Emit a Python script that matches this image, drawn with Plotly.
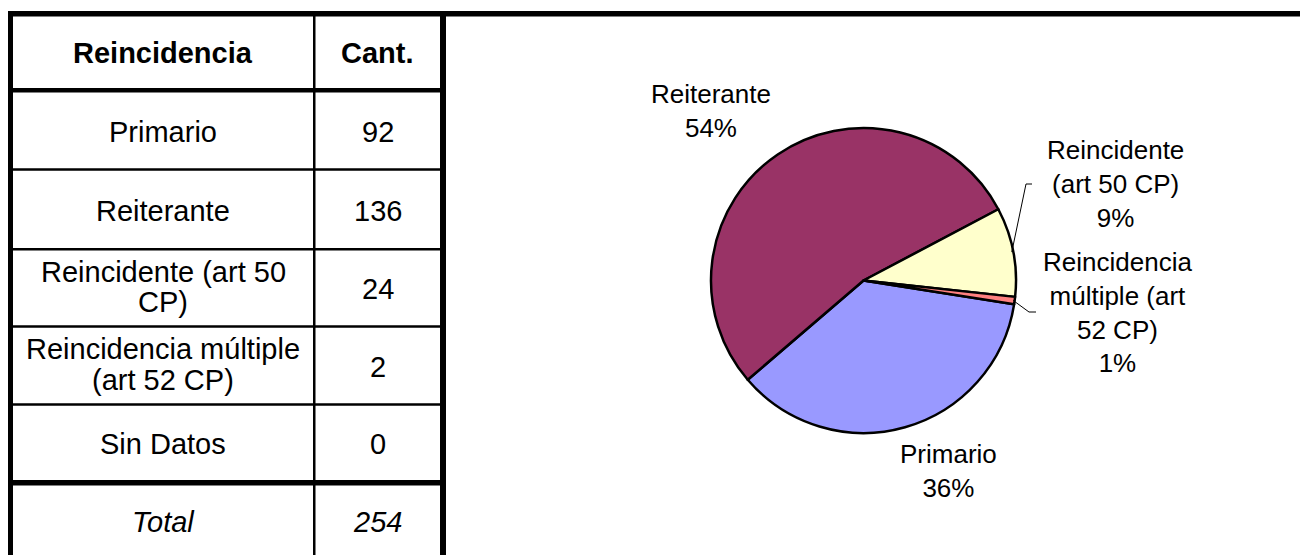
import math
import textwrap
import plotly.graph_objects as go

# ---------------- data ----------------
categories = ["Primario", "Reiterante", "Reincidente (art 50 CP)",
              "Reincidencia múltiple (art 52 CP)", "Sin Datos"]
counts = [92, 136, 24, 2, 0]
header = ["Reincidencia", "Cant."]
total_label = "Total"
slice_colors = ["#9999FF", "#993366", "#FFFFCC", "#FF8080", "#CCFFFF"]

# ---------------- layout constants (pixels, page coordinates) ----------------
OFF = 8                      # default body margin of the html page
W, H = 1308 - OFF, 555 - OFF
FONT = "Arial, Liberation Sans, sans-serif"


def px(x):
    return (x - OFF) / W


def py(y):
    return 1 - (y - OFF) / H


fig = go.Figure()

# ---------- pie ----------
pie_labels = [c for c, v in zip(categories, counts) if v > 0]
pie_values = [v for v in counts if v > 0]
pie_colors = [col for col, v in zip(slice_colors, counts) if v > 0]
ROT = 99
cx, cy, R = 863.5, 280.5, 152.5
fig.add_trace(go.Pie(
    labels=pie_labels, values=pie_values, sort=False, direction="clockwise",
    rotation=ROT, textposition="none", showlegend=False, hoverinfo="label+percent",
    marker=dict(colors=pie_colors, line=dict(color="black", width=2.5)),
    domain=dict(x=[px(cx - R), px(cx + R)], y=[py(cy + R), py(cy - R)]),
))

total = sum(counts)

# pie labels
label_pos = {
    "Primario": (948, 471),
    "Reiterante": (711, 111),
    "Reincidente (art 50 CP)": (1115, 184),
    "Reincidencia múltiple (art 52 CP)": (1117, 313),
}
for lab, v in zip(pie_labels, pie_values):
    pct = round(v / total * 100)
    txt = "<br>".join(textwrap.wrap(lab, 13)) + f"<br>{pct}%"
    x, y = label_pos[lab]
    fig.add_annotation(x=px(x), y=py(y), xref="paper", yref="paper", text=txt,
                       showarrow=False, xanchor="center", yanchor="middle",
                       font=dict(family=FONT, size=26, color="black"), align="center")

# leader lines from slice midpoints
cum = 0
mids = {}
for lab, v in zip(pie_labels, pie_values):
    mids[lab] = ROT + (cum + v / 2) / total * 360
    cum += v


def edge(lab, f=0.99):
    a = math.radians(mids[lab])
    return cx + R * f * math.sin(a), cy - R * f * math.cos(a)


ex, ey = edge("Reincidente (art 50 CP)")
path1 = f"M {px(1032)},{py(184)} L {px(1026)},{py(184)} L {px(ex)},{py(ey)}"
ex2, ey2 = edge("Reincidencia múltiple (art 52 CP)")
path2 = f"M {px(ex2)},{py(ey2)} L {px(1029)},{py(312)} L {px(1036)},{py(312)}"
for p in (path1, path2):
    fig.add_shape(type="path", path=p, xref="paper", yref="paper",
                  line=dict(color="black", width=1))

# ---------- table ----------
def hbar(x0, x1, y0, y1):
    fig.add_shape(type="rect", xref="paper", yref="paper",
                  x0=px(x0), x1=px(x1), y0=py(y1), y1=py(y0),
                  fillcolor="black", line=dict(width=0), layer="above")


hbar(7, 1320, 11, 16.5)       # top border
hbar(7, 13, 11, 600)          # left border
hbar(440, 446, 11, 600)       # table right border
hbar(313, 315.5, 16, 600)     # column divider
hbar(13, 440, 88, 92.5)       # header bottom
for yl in (168.3, 248, 325.3, 403.3):
    hbar(13, 440, yl, yl + 2.5)
hbar(13, 440, 480, 485.5)     # before total

col_x = [163, 377.5]
row_c = [52, 130, 209, 287.5, 365, 442.5, 520]


def cell(text, x, yc, bold=False, italic=False, wrap=21):
    lines = textwrap.wrap(text, wrap) if len(text) > wrap else [text]
    n = len(lines)
    for i, ln in enumerate(lines):
        off = (i - (n - 1) / 2) * 30.7
        y = yc + (1.5 if n == 1 else -0.5) + off
        t = ln
        if bold:
            t = f"<b>{t}</b>"
        if italic:
            t = f"<i>{t}</i>"
        fig.add_annotation(x=px(x), y=py(y), xref="paper", yref="paper", text=t,
                           showarrow=False, xanchor="center", yanchor="middle",
                           font=dict(family=FONT, size=29, color="black"))


cell(header[0], col_x[0], row_c[0], bold=True)
cell(header[1], col_x[1], row_c[0], bold=True)
for i, (c, v) in enumerate(zip(categories, counts)):
    cell(c, col_x[0], row_c[i + 1])
    cell(str(v), col_x[1], row_c[i + 1])
cell(total_label, col_x[0], row_c[6], italic=True)
cell(str(total), col_x[1], row_c[6], italic=True)

fig.update_layout(width=W, height=H, margin=dict(l=0, r=0, t=0, b=0),
                  paper_bgcolor="white", plot_bgcolor="white", showlegend=False)
fig.write_html("out.html")
